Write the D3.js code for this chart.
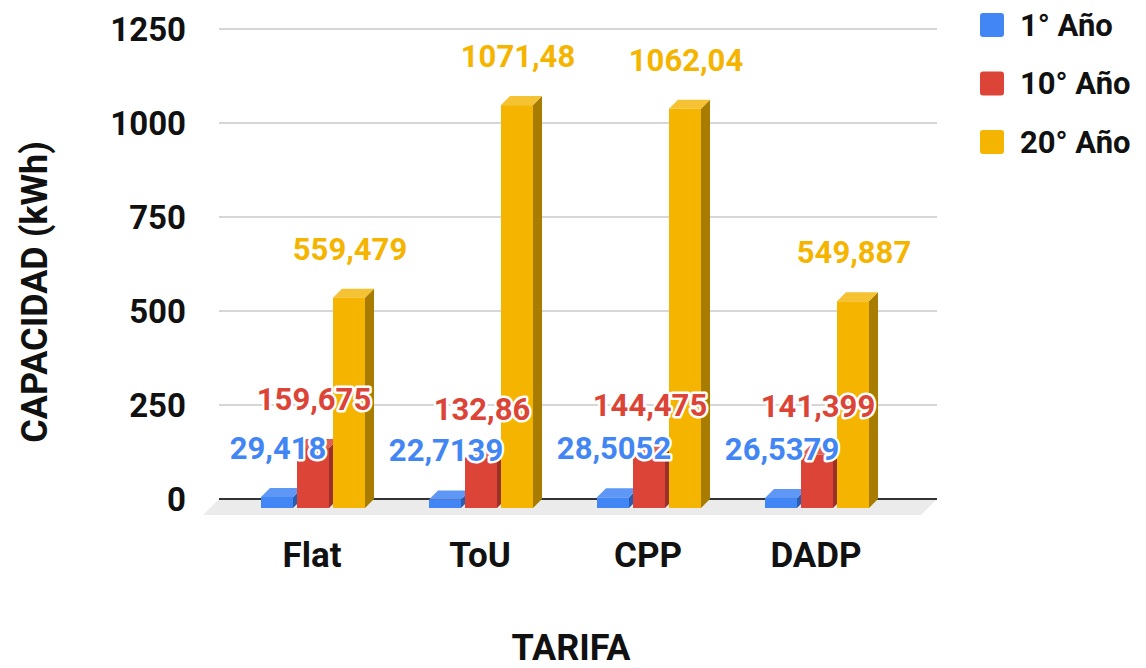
<!DOCTYPE html>
<html>
<head>
<meta charset="utf-8">
<script src="https://cdn.jsdelivr.net/npm/d3@7"></script>
<style>
  body { margin: 0; background: #fff; }
  text { font-family: Roboto, "Noto Sans", sans-serif; font-weight: 700; }
</style>
</head>
<body>
<script>
const width = 1146;
const height = 668;

const categories = ['Flat', 'ToU', 'CPP', 'DADP'];
const series = ['1° Año', '10° Año', '20° Año'];
const year1 = [29.418, 22.7139, 28.5052, 26.5379];
const year10 = [159.675, 132.86, 144.475, 141.399];
const year20 = [559.479, 1071.48, 1062.04, 549.887];
const yTicks = [0, 250, 500, 750, 1000, 1250];

const colors = ['#4285f4', '#db4437', '#f4b400'];
const tops = ['#5e97f6', '#e06055', '#f5c233'];
const sides = ['#2a5db0', '#99302a', '#a87c00'];

// depth of the 3d offset
const d = 9;
const wallLeft = 219;
const wallRight = 937;

function init() {
  const svg = d3.select('body')
    .append('svg')
    .attr('width', width)
    .attr('height', height);

  const y = d3.scaleLinear()
    .domain([0, 1250])
    .range([499, 29]);

  const x0 = d3.scaleBand()
    .domain(categories)
    .range([238, 910]);

  const x1 = d3.scaleBand()
    .domain(series)
    .range([-52, 52])
    .paddingInner(0.111);

  const rows = categories.map((c, i) => ({
    cat: c,
    values: [year1[i], year10[i], year20[i]]
  }));

  // floor
  svg.append('polygon')
    .attr('points', [
      [wallLeft, y(0)], [wallRight, y(0)],
      [wallRight - 16, y(0) + 16], [wallLeft - 16, y(0) + 16]
    ].join(' '))
    .attr('fill', '#ebebeb');

  // gridlines on back wall
  svg.append('g')
    .selectAll('line')
    .data(yTicks.filter(t => t > 0))
    .join('line')
    .attr('x1', wallLeft)
    .attr('x2', wallRight)
    .attr('y1', d => y(d))
    .attr('y2', d => y(d))
    .attr('stroke', '#d6d6d6')
    .attr('stroke-width', 2);

  svg.append('line')
    .attr('x1', wallLeft)
    .attr('x2', wallRight)
    .attr('y1', y(0))
    .attr('y2', y(0))
    .attr('stroke', '#333')
    .attr('stroke-width', 2);

  // y tick labels
  svg.append('g')
    .selectAll('text')
    .data(yTicks)
    .join('text')
    .attr('x', 186)
    .attr('y', d => y(d))
    .attr('dy', '0.35em')
    .attr('text-anchor', 'end')
    .attr('font-size', 33)
    .attr('fill', '#111')
    .text(d => d);

  // bars
  const groups = svg.append('g')
    .selectAll('g')
    .data(rows)
    .join('g')
    .attr('transform', r => `translate(${x0(r.cat) + x0.bandwidth() / 2}, 0)`);

  const bars = groups.selectAll('g')
    .data(r => r.values.map((v, j) => ({ v, j })))
    .join('g');

  const w = x1.bandwidth();

  bars.append('rect')
    .attr('x', b => x1(series[b.j]) - d)
    .attr('y', b => y(b.v) + d)
    .attr('width', w)
    .attr('height', b => y(0) - y(b.v))
    .attr('fill', b => colors[b.j]);

  bars.append('polygon')
    .attr('points', b => {
      const bx = x1(series[b.j]);
      return [
        [bx - d + w, y(b.v) + d], [bx + w, y(b.v)],
        [bx + w, y(0)], [bx - d + w, y(0) + d]
      ].join(' ');
    })
    .attr('fill', b => sides[b.j]);

  bars.append('polygon')
    .attr('points', b => {
      const bx = x1(series[b.j]);
      return [
        [bx - d, y(b.v) + d], [bx, y(b.v)],
        [bx + w, y(b.v)], [bx - d + w, y(b.v) + d]
      ].join(' ');
    })
    .attr('fill', b => tops[b.j]);

  // data labels, on top of every bar
  const labels = svg.append('g')
    .selectAll('g')
    .data(rows)
    .join('g')
    .attr('transform', r => `translate(${x0(r.cat) + x0.bandwidth() / 2}, 0)`);

  labels.selectAll('text')
    .data(r => r.values.map((v, j) => ({ v, j })))
    .join('text')
    .attr('x', b => x1(series[b.j]) - d + w / 2 + 1)
    .attr('y', b => y(b.v) - 29)
    .attr('text-anchor', 'middle')
    .attr('font-size', 31)
    .attr('fill', b => colors[b.j])
    .attr('stroke', '#fff')
    .attr('stroke-width', 5)
    .attr('stroke-linejoin', 'round')
    .attr('paint-order', 'stroke')
    .text(b => String(b.v).replace('.', ','));

  // category labels
  svg.append('g')
    .selectAll('text')
    .data(categories)
    .join('text')
    .attr('x', c => x0(c) + x0.bandwidth() / 2 - d - 1)
    .attr('y', 567)
    .attr('text-anchor', 'middle')
    .attr('font-size', 35)
    .attr('fill', '#111')
    .text(c => c);

  // axis titles
  svg.append('text')
    .attr('x', 571)
    .attr('y', 660)
    .attr('text-anchor', 'middle')
    .attr('font-size', 36)
    .attr('fill', '#111')
    .text('TARIFA');

  svg.append('text')
    .attr('transform', 'translate(47, 292) rotate(-90)')
    .attr('text-anchor', 'middle')
    .attr('font-size', 36)
    .attr('fill', '#111')
    .text('CAPACIDAD (kWh)');

  // legend
  const legend = svg.append('g')
    .selectAll('g')
    .data(series)
    .join('g')
    .attr('transform', (s, i) => `translate(980, ${13 + i * 58.5})`);

  legend.append('rect')
    .attr('width', 24)
    .attr('height', 24)
    .attr('rx', 3)
    .attr('fill', (s, i) => colors[i]);

  legend.append('text')
    .attr('x', 40)
    .attr('y', 12)
    .attr('dy', '0.35em')
    .attr('font-size', 31)
    .attr('fill', '#111')
    .text(s => s);
}

init();
</script>
</body>
</html>
